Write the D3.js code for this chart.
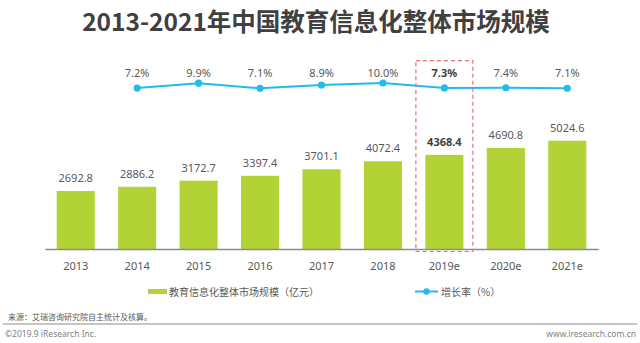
<!DOCTYPE html>
<html><head><meta charset="utf-8">
<script src="https://cdn.jsdelivr.net/npm/d3@7"></script>
<style>
html,body{margin:0;padding:0;background:#fff;}
svg{display:block;}
</style></head>
<body>
<svg id="c" width="640" height="343"></svg>
<script>
const categories = ["2013","2014","2015","2016","2017","2018","2019e","2020e","2021e"];
const marketSize = [2692.8, 2886.2, 3172.7, 3397.4, 3701.1, 4072.4, 4368.4, 4690.8, 5024.6];
const growthRate = [7.2, 9.9, 7.1, 8.9, 10.0, 7.3, 7.4, 7.1];
const growthCats = ["2014","2015","2016","2017","2018","2019e","2020e","2021e"];
const highlight = "2019e";
const title = "2013-2021年中国教育信息化整体市场规模";
const legendBar = "教育信息化整体市场规模（亿元）";
const legendLine = "增长率（%）";
const source = "来源：艾瑞咨询研究院自主统计及核算。";
const copyright = "©2019.9 iResearch Inc.";
const website = "www.iresearch.com.cn";

const svg = d3.select("#c");
const cjk = "'Noto Sans CJK SC','Noto Sans',sans-serif";
const num = "'Noto Sans','Open Sans',sans-serif";
const textCol = "#595959";

const x = d3.scaleBand().domain(categories).range([45, 598]).paddingInner(0.38).paddingOuter(0.19);
const y = d3.scaleLinear().domain([0, 6000]).range([249, 119.7]);
const yr = d3.scaleLinear().domain([0, 10]).range([101.2, 83]);
const cx = c => x(c) + x.bandwidth() / 2;

// title
svg.append("text").attr("x", 316).attr("y", 31).attr("text-anchor", "middle")
  .attr("font-family", cjk).attr("font-weight", 700).attr("font-size", 24.5)
  .attr("fill", "#404040").text(title);

// bars
svg.append("g").selectAll("rect").data(categories).join("rect")
  .attr("x", d => x(d)).attr("width", x.bandwidth())
  .attr("y", (d, i) => y(marketSize[i])).attr("height", (d, i) => y(0) - y(marketSize[i]))
  .attr("fill", "#b2d235");

svg.append("g").selectAll("text").data(categories).join("text")
  .attr("x", d => cx(d)).attr("y", (d, i) => y(marketSize[i]) - 9)
  .attr("text-anchor", "middle").attr("font-family", num).attr("font-size", 11)
  .attr("font-weight", d => d === highlight ? 700 : 400)
  .attr("fill", d => d === highlight ? "#404040" : textCol)
  .text((d, i) => marketSize[i].toFixed(1));

// x axis
const xAxis = svg.append("g").attr("transform", `translate(0,${y(0)})`)
  .call(d3.axisBottom(x).tickSize(0).tickPadding(13));
xAxis.select(".domain").attr("stroke", "#8c8c8c").attr("stroke-width", 1.5);
xAxis.selectAll("text").attr("font-family", num).attr("font-size", 11).attr("fill", textCol);

// line
const line = d3.line().x((d, i) => cx(growthCats[i])).y(d => yr(d));
svg.append("path").datum(growthRate).attr("d", line)
  .attr("fill", "none").attr("stroke", "#22bbea").attr("stroke-width", 2);
svg.append("g").selectAll("circle").data(growthRate).join("circle")
  .attr("cx", (d, i) => cx(growthCats[i])).attr("cy", d => yr(d)).attr("r", 3.6)
  .attr("fill", "#22bbea");
svg.append("g").selectAll("text").data(growthRate).join("text")
  .attr("x", (d, i) => cx(growthCats[i])).attr("y", 77)
  .attr("text-anchor", "middle").attr("font-family", num).attr("font-size", 11)
  .attr("font-weight", (d, i) => growthCats[i] === highlight ? 700 : 400)
  .attr("fill", (d, i) => growthCats[i] === highlight ? "#404040" : textCol)
  .text(d => d.toFixed(1) + "%");

// highlight box
svg.append("rect").attr("x", cx(highlight) - 28.5).attr("y", 60.7)
  .attr("width", 57).attr("height", y(0) + 2.5 - 60.7)
  .attr("fill", "none").attr("stroke", "#e8707a").attr("stroke-width", 1.2)
  .attr("stroke-dasharray", "4,3");

// legend
svg.append("rect").attr("x", 148).attr("y", 289).attr("width", 19).attr("height", 5).attr("fill", "#b2d235");
svg.append("text").attr("x", 169).attr("y", 295.5).attr("font-family", cjk).attr("font-size", 10)
  .attr("fill", textCol).text(legendBar);
svg.append("line").attr("x1", 415).attr("x2", 438).attr("y1", 291.5).attr("y2", 291.5)
  .attr("stroke", "#22bbea").attr("stroke-width", 2);
svg.append("circle").attr("cx", 426.5).attr("cy", 291.5).attr("r", 3.2).attr("fill", "#22bbea");
svg.append("text").attr("x", 441).attr("y", 295.5).attr("font-family", cjk).attr("font-size", 10)
  .attr("fill", textCol).text(legendLine);

// footer
svg.append("text").attr("x", 8).attr("y", 320).attr("font-family", cjk).attr("font-size", 8)
  .attr("fill", textCol).text(source);
svg.append("line").attr("x1", 3).attr("x2", 637).attr("y1", 324).attr("y2", 324)
  .attr("stroke", "#8c8c8c").attr("stroke-width", 1);
svg.append("text").attr("x", 5).attr("y", 337).attr("font-family", num).attr("font-size", 8.5)
  .attr("fill", "#7f7f7f").text(copyright);
svg.append("text").attr("x", 636).attr("y", 337).attr("text-anchor", "end").attr("font-family", num).attr("font-size", 8.5)
  .attr("fill", "#7f7f7f").text(website);
</script>
</body></html>
